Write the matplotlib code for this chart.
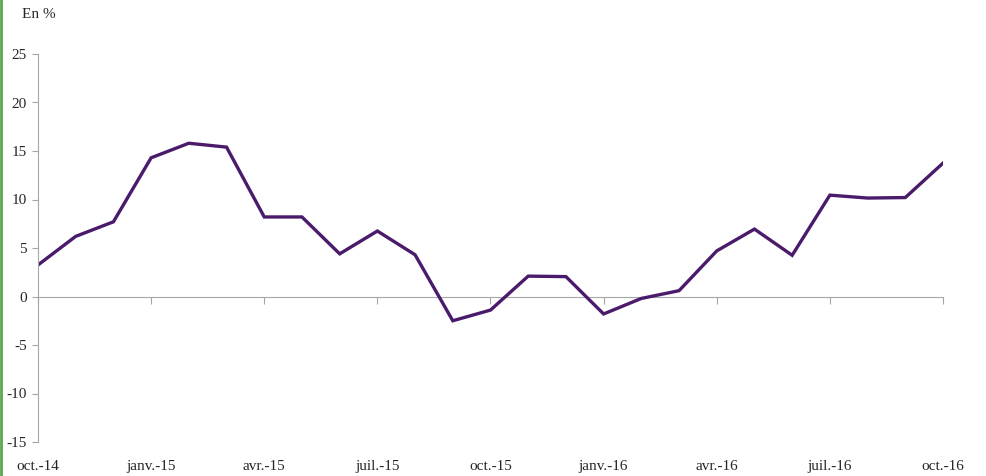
import matplotlib
matplotlib.use("Agg")
import matplotlib.pyplot as plt
from matplotlib.lines import Line2D

months = ["oct.-14", "nov.-14", "déc.-14", "janv.-15", "févr.-15", "mars-15",
          "avr.-15", "mai-15", "juin-15", "juil.-15", "août-15", "sept.-15",
          "oct.-15", "nov.-15", "déc.-15", "janv.-16", "févr.-16", "mars-16",
          "avr.-16", "mai-16", "juin-16", "juil.-16", "août-16", "sept.-16",
          "oct.-16"]
values = [3.25, 6.2, 7.7, 14.3, 15.8, 15.4, 8.2, 8.2, 4.4, 6.75, 4.3, -2.5,
          -1.4, 2.1, 2.05, -1.8, -0.2, 0.6, 4.7, 6.95, 4.25, 10.45, 10.15, 10.2,
          13.75]
yticks = [-15, -10, -5, 0, 5, 10, 15, 20, 25]

plt.rcParams["font.family"] = ["Liberation Serif", "DejaVu Serif"]

fig = plt.figure(figsize=(9.87, 4.76), dpi=100)
ax = fig.add_axes([38 / 987, 34 / 476, 905 / 987, 388 / 476])

x = list(range(len(months)))
ax.plot(x, values, color="#4a1a6b", linewidth=2.4, solid_joinstyle="miter")

ax.set_xlim(0, len(months) - 1)
ax.set_ylim(-15, 25)
ax.set_yticks(yticks)
ax.set_yticklabels([str(v) for v in yticks])

grey = "#a6a6a6"
for s in ["top", "right", "bottom"]:
    ax.spines[s].set_visible(False)
ax.spines["left"].set_color(grey)
ax.tick_params(axis="y", direction="out", length=4, color=grey, labelsize=11,
               labelcolor="#262626", pad=4)

# quarterly labels at the bottom, without tick marks
qpos = x[::3]
ax.set_xticks(qpos)
ax.set_xticklabels(months[::3])
ax.tick_params(axis="x", length=0, labelsize=11, labelcolor="#262626", pad=13)

# horizontal axis line at zero with tick marks
zero = ax.secondary_xaxis(15 / 40)
zero.spines["bottom"].set_color(grey)
zero.set_xticks(qpos)
zero.set_xticklabels([])
zero.tick_params(axis="x", direction="out", length=5, color=grey)

fig.text(22 / 987, 1 - 14 / 476, "En %", fontsize=11, color="#262626",
         va="center", ha="left")

# green edge on the left
fig.add_artist(Line2D([1.2 / 987, 1.2 / 987], [0, 1], color="#5aa64e",
                      linewidth=2, transform=fig.transFigure))

fig.savefig("out.png", dpi=100, facecolor="white")
